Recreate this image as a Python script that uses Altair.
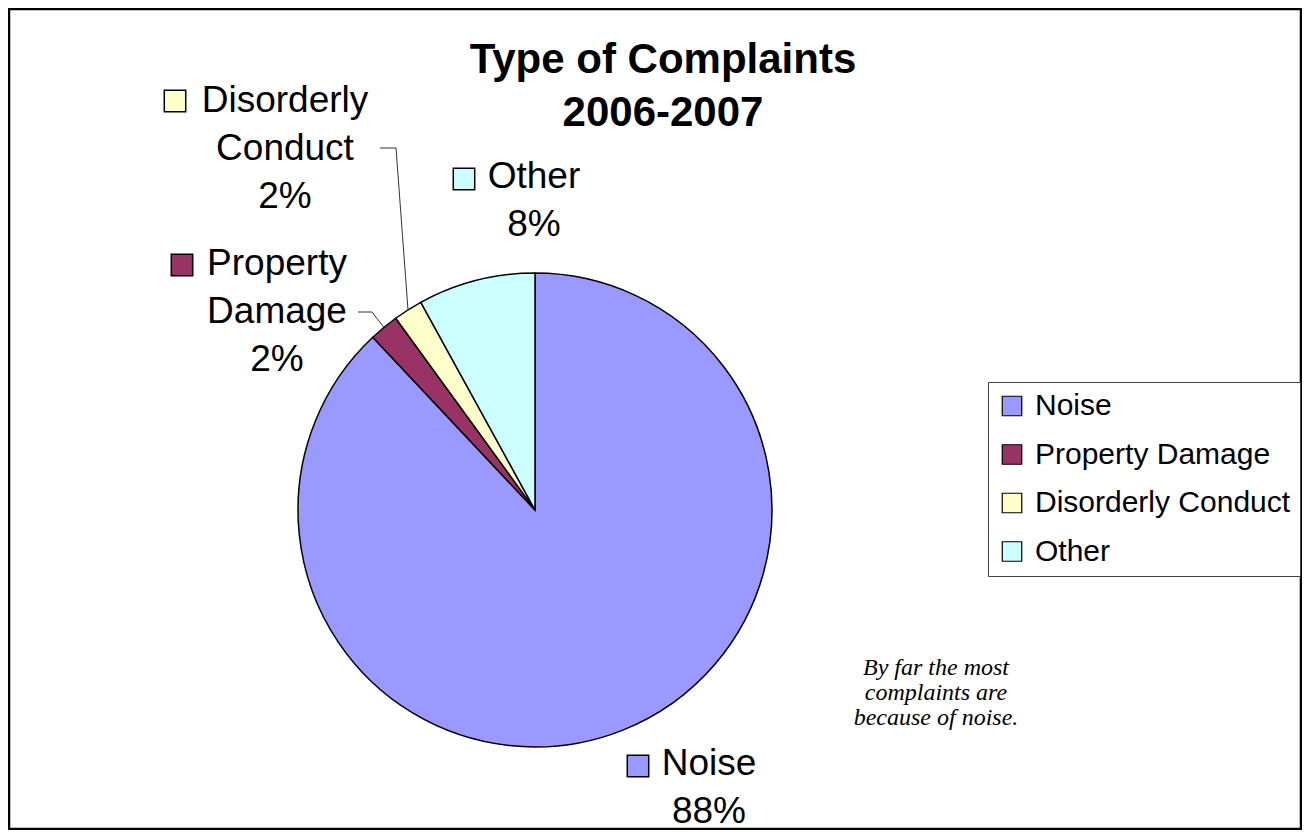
import math
import altair as alt
import pandas as pd

# ---- data ----
categories = ["Noise", "Property Damage", "Disorderly Conduct", "Other"]
label_names = ["Noise", "Property\nDamage", "Disorderly\nConduct", "Other"]
percent = [88, 2, 2, 8]
colors = ["#9999FF", "#993366", "#FFFFCC", "#CCFFFF"]

title_lines = ["Type of Complaints", "2006-2007"]
note_text = "By far the most\ncomplaints are\nbecause of noise."

# ---- layout (chart pixel coordinates) ----
W, H = 1294, 822
CX, CY, R = 527, 502, 237
label_x = [701, 269, 277, 526]
label_y = [767, 267, 104, 180]
square_x = [630, 174, 167, 456]
square_y = [758, 257, 93, 171]
leader_from = {"Property Damage": [(350, 304), (364, 304)],
               "Disorderly Conduct": [(372, 140), (388, 140)]}

df = pd.DataFrame({
    "category": categories,
    "value": percent,
    "idx": list(range(len(categories))),
})

labels = pd.DataFrame({
    "category": categories,
    "text": [f"{n}\n{p}%" for n, p in zip(label_names, percent)],
    "lx": label_x, "ly": label_y, "sx": square_x, "sy": square_y,
})

# leader lines: end on pie edge at slice mid-angle (computed from the values)
total = sum(percent)
cum = 0
rows = []
for c, v in zip(categories, percent):
    mid = (cum + v / 2) / total * 2 * math.pi
    cum += v
    if c in leader_from:
        pts = leader_from[c] + [(CX + R * math.sin(mid), CY - R * math.cos(mid))]
        for k, (px, py) in enumerate(pts):
            rows.append({"category": c, "k": k, "px": px, "py": py})
leaders = pd.DataFrame(rows)

color_scale = alt.Scale(domain=categories, range=colors)

border = alt.Chart(pd.DataFrame({"a": [0]})).mark_rect(
    fill=None, stroke="black", strokeWidth=2.5
).encode(x=alt.value(1), x2=alt.value(W - 1), y=alt.value(1), y2=alt.value(H - 1))

pie = alt.Chart(df).mark_arc(outerRadius=R, stroke="black", strokeWidth=1.5).encode(
    theta=alt.Theta("value:Q", stack=True),
    order=alt.Order("idx:Q"),
    color=alt.Color(
        "category:N", scale=color_scale, sort=categories,
        legend=alt.Legend(
            title=None, orient="none", legendX=980, legendY=374,
            symbolType="square", symbolSize=380, symbolStrokeColor="black",
            symbolStrokeWidth=1.2, labelFontSize=30, labelFont="Liberation Sans",
            labelColor="black", labelOffset=8, rowPadding=18.5, padding=9,
            strokeColor="#444444", fillColor="white", labelLimit=400,
        ),
    ),
    x=alt.value(CX), y=alt.value(CY),
)

leader = alt.Chart(leaders).mark_line(color="#333333", strokeWidth=1).encode(
    x=alt.X("px:Q", scale=None), y=alt.Y("py:Q", scale=None),
    detail="category:N", order="k:Q",
)

lbl_text = alt.Chart(labels).mark_text(
    font="Liberation Sans", fontSize=37, align="center", baseline="alphabetic",
    lineBreak="\n", lineHeight=48, color="black",
).encode(x=alt.X("lx:Q", scale=None), y=alt.Y("ly:Q", scale=None), text="text:N")

lbl_sq = alt.Chart(labels).mark_square(
    size=460, stroke="black", strokeWidth=1.5, opacity=1, filled=True
).encode(
    x=alt.X("sx:Q", scale=None), y=alt.Y("sy:Q", scale=None),
    fill=alt.Fill("category:N", scale=color_scale, legend=None),
)

title = alt.Chart(pd.DataFrame({"t": ["\n".join(title_lines)]})).mark_text(
    font="Liberation Sans", fontSize=42, fontWeight="bold", align="center",
    baseline="alphabetic", lineBreak="\n", lineHeight=53, color="black",
).encode(x=alt.value(655), y=alt.value(65), text="t:N")

note = alt.Chart(pd.DataFrame({"t": [note_text]})).mark_text(
    font="Liberation Serif", fontSize=24, fontStyle="italic", align="center",
    baseline="alphabetic", lineBreak="\n", lineHeight=25, color="black",
).encode(x=alt.value(928), y=alt.value(667), text="t:N")

chart = alt.layer(border, pie, leader, lbl_text, lbl_sq, title, note).properties(
    width=W, height=H, padding=0, autosize=alt.AutoSizeParams(type="none")
).configure_view(stroke=None).resolve_scale(fill="independent")

chart.save("out.html", embed_options={"renderer": "svg", "actions": False})
